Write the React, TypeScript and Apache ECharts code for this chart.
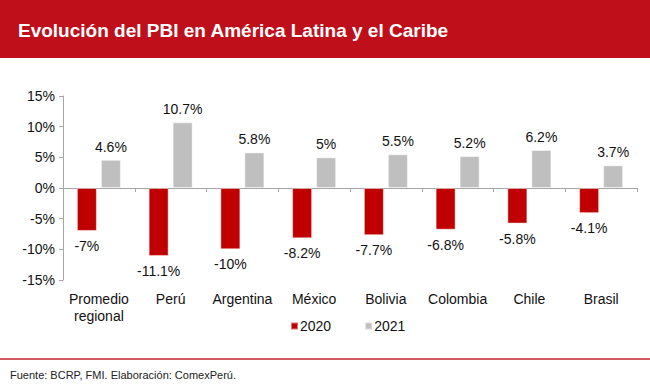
import React, { useEffect, useRef } from "react";
import * as echarts from "echarts";

const categories = ["Promedio\nregional", "Perú", "Argentina", "México", "Bolivia", "Colombia", "Chile", "Brasil"];
const values2020 = [-7, -11.1, -10, -8.2, -7.7, -6.8, -5.8, -4.1];
const values2021 = [4.6, 10.7, 5.8, 5, 5.5, 5.2, 6.2, 3.7];
const seriesNames = ["2020", "2021"];
const title = "Evolución del PBI en América Latina y el Caribe";
const source = "Fuente: BCRP, FMI. Elaboración: ComexPerú.";

const FONT = "'Liberation Sans', Arial, sans-serif";
const RED = "#c00000";
const GRAY = "#bfbfbf";

export default function App() {
  const ref = useRef<HTMLDivElement>(null);
  useEffect(() => {
    if (!ref.current) return;
    const chart = echarts.init(ref.current, null, { renderer: "svg" });
    chart.setOption({
      animation: false,
      backgroundColor: "#ffffff",
      textStyle: { fontFamily: FONT },
      graphic: [
        { type: "rect", shape: { x: 0, y: 0, width: 650, height: 58 }, style: { fill: "#bf0f1b" }, z: 0 },
        {
          type: "text", x: 18, y: 30,
          style: { text: title, fill: "#ffffff", font: `bold 19px ${FONT}`, textVerticalAlign: "middle" },
        },
        { type: "rect", shape: { x: 0, y: 358, width: 650, height: 2 }, style: { fill: "#d05a60" } },
        {
          type: "text", x: 10, y: 375,
          style: { text: source, fill: "#222222", font: `11px ${FONT}`, textVerticalAlign: "middle" },
        },
      ],
      legend: {
        data: seriesNames,
        left: 290,
        top: 319,
        padding: 0,
        itemWidth: 7,
        itemHeight: 7,
        itemGap: 33,
        icon: "rect",
        textStyle: { fontSize: 14, color: "#111", fontFamily: FONT, padding: [0, 0, 0, -3] },
      },
      grid: { left: 63, right: 13, top: 96, bottom: 106, containLabel: false },
      xAxis: [
        {
          type: "category",
          data: categories,
          axisLine: { onZero: true, lineStyle: { color: "#a6a6a6" } },
          axisTick: { show: true, length: 4, lineStyle: { color: "#a6a6a6" } },
          axisLabel: { show: false },
        },
        {
          type: "category",
          data: categories,
          position: "bottom",
          axisLine: { show: false, onZero: false },
          axisTick: { show: false },
          axisLabel: { show: true, fontSize: 14, color: "#111", fontFamily: FONT, margin: 10, lineHeight: 17, interval: 0 },
        },
      ],
      yAxis: {
        type: "value",
        min: -15,
        max: 15,
        interval: 5,
        axisLine: { show: true, lineStyle: { color: "#a6a6a6" } },
        axisTick: { show: true, length: 4, lineStyle: { color: "#a6a6a6" } },
        splitLine: { show: false },
        axisLabel: { formatter: (v: number) => `${v}%`, fontSize: 14, color: "#111", fontFamily: FONT, margin: 8 },
      },
      series: [
        {
          name: seriesNames[0],
          type: "bar",
          xAxisIndex: 0,
          data: values2020,
          barWidth: 20,
          barGap: "20%",
          itemStyle: { color: RED, borderColor: "rgba(255,255,255,0.45)", borderWidth: 1 },
          label: {
            show: true, position: "bottom", distance: 8,
            formatter: (p: any) => `${p.value}%`,
            fontSize: 14, color: "#111", fontFamily: FONT,
          },
        },
        {
          name: seriesNames[1],
          type: "bar",
          xAxisIndex: 0,
          data: values2021,
          barWidth: 20,
          barGap: "20%",
          itemStyle: { color: GRAY, borderColor: "rgba(255,255,255,0.45)", borderWidth: 1 },
          label: {
            show: true, position: "top", distance: 6,
            formatter: (p: any) => `${p.value}%`,
            fontSize: 14, color: "#111", fontFamily: FONT,
          },
        },
      ],
    });
    return () => chart.dispose();
  }, []);
  return <div ref={ref} style={{ position: "fixed", left: 0, top: 0, width: 650, height: 386 }} />;
}
